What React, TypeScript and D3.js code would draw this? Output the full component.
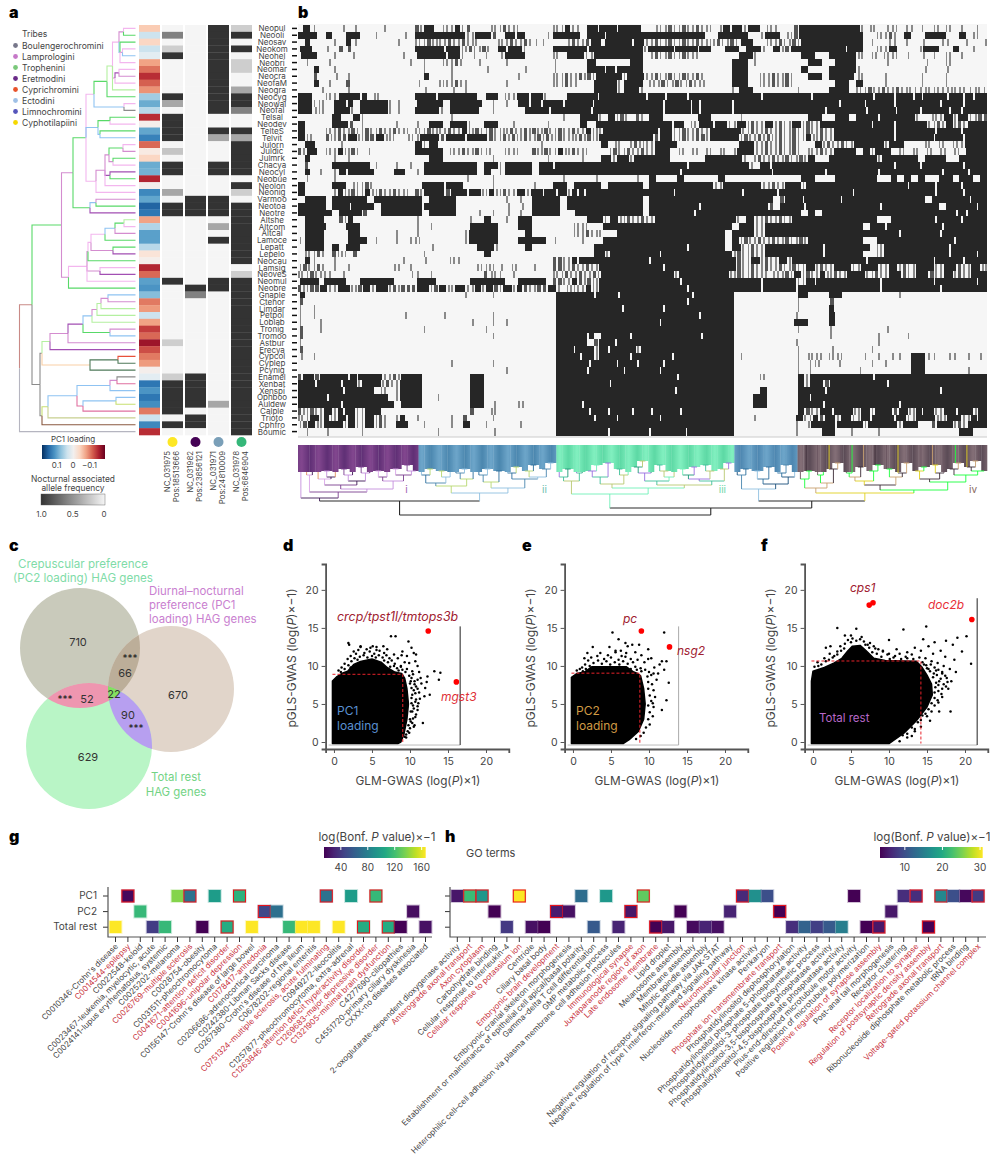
import React, { useEffect, useRef } from "react";
import * as d3 from "d3";

const FONT = "Inter, 'Noto Sans', sans-serif";
const TXT = "#444";
const RED = "#c8323c";

// ---- panel a / b data ----
const species = ["Neopul","Neooli","Neosav","Neokom","Neohel","Neobri","Neomar","Neocra","NeofaM","Neogra","Neocyg","Neowal","Neofal","Telsal","Neodev","TelteS","Telvit","Julorn","Juldic","Julmrk","Chacya","Neocyl","Neobue","Neolon","Neonig","Varmoo","Neotoa","Neotre","Altshe","Altcom","Altcal","Lamoce","Lepatt","Lepelo","Neocau","Lamsig","NeoveS","Neomul","Neobre","Gnaple","Ctehor","Limdar","Petpol","Loblab","Tronig","Tromoo","Astbur","Erecya","Cypcol","Cyplep","Pcynig","Enamel","Xenbat","Xenspi","Ophboo","Auldew","Calple","Trioto","Cphfro","Boumic"];

const pc1Loading = [-0.05,0.04,-0.04,0.04,0.02,-0.08,-0.11,-0.15,-0.12,-0.09,0.07,0.1,0.055,-0.15,-0.005,0.105,0.135,-0.115,-0.015,-0.04,0.1,0.095,-0.155,-0.005,0.13,0.105,0.16,0.145,-0.08,0.06,0.11,0.11,0.055,-0.025,-0.005,-0.155,-0.115,0.11,0.12,0.085,-0.105,-0.085,0.04,-0.08,-0.14,-0.115,-0.17,-0.13,-0.105,-0.085,-0.005,0.02,0.145,0.12,0.145,0.125,-0.105,0.04,0.13,-0.15];

const snp975 = [0,0.6,0,0.2,1,0,0,0,0,0,1,0.4,0,1,1,1,1,0,0.25,0,1,1,0,0,0.4,0,1,1,0,0,0,0,0,0,0,0,0,1,0,0,0,0,0,0,0,0,0.2,0,0,0,0,0.2,1,1,1,1,1,0,1,0];
const snp982 = [0,0,0,0,0,0,0,0,0,0,0,0,0,0,0,0,0,0,0,0,0,0,0,0,0,1,1,1,0,0,0,0,0,0,0,0,0,0,1,0.6,0,0,0,0,0,0,0,0,0,0,0,1,1,1,1,1,0,1,1,0];
const snp971 = [1,1,1,1,1,1,1,1,1,1,1,1,1,0,0,1,0.4,0,0,0,1,1,0,0,0,1,1,1,0,0.4,0,1,0,0,0,0,0,1,1,0,0,0,0,0,0,0,0,0,0,0,0,0,0,0,0,0.4,0,0,0,0];
const snp978 = [0.2,1,0,1,0,0.2,0.2,0,0,0.4,1,1,0.6,0,0,1,0.4,1,1,1,1,1,0,1,0.2,0,1,1,1,1,1,1,1,1,1,0,0.2,1,1,1,1,1,1,1,1,1,1,1,1,1,1,1,1,1,1,1,1,1,1,1];
const snpColumns = [snp975, snp982, snp971, snp978];
const snpIds = ["NC_031975","NC_031982","NC_031971","NC_031978"];
const snpPos = ["Pos:18513666","Pos:23856121","Pos:24810009","Pos:6846904"];
const snpDots = ["#fde725","#440154","#7a9fb8","#35b779"];

const tribes = ["Boulengerochromini","Lamprologini","Trophenini","Eretmodini","Cyprichromini","Ectodini","Limnochromini","Cyphotilapiini"];
const tribeColors = ["#77778a","#c678c8","#7ac87a","#6a2a88","#e8522a","#9fc0e6","#5555bb","#f5d800"];

const P = "#d48ccf", LP = "#f3b6ee", G = "#58d968", LG = "#b4f0a0", B = "#8fc3f2", V = "#a24fb3", K = "#8b8b8b", R = "#e8503a", T = "#4f7a5a", O = "#f9cfa5", Y = "#c8e070", M = "#e070a0";
type TreeNode = { h: number; c: string; kids?: TreeNode[] };
const n = (h: number, c: string, ...kids: (TreeNode | string)[]): TreeNode => ({
  h, c, kids: kids.map((k) => (typeof k === "string" ? { h: 116, c: k } : k)),
});
// branch heights, leaves in row order
const tree = n(0, K,
  n(12.5, "#c98a86",
    n(42, G,
      n(53.5, P,
        n(66.5, G,
          n(74.5, LP,
            n(87.5, G,
              n(93, LG,
                n(99.5, LP, n(104, P, LP, G), n(100.5, B, G, n(103, P, LP, B), LP)),
                n(95.5, P, n(99.5, V, LP, P), LP),
                LG),
              G),
            n(104.5, B, LP, K)),
          n(78.5, B, n(90.5, G, G, LP), n(80.5, B, G, B)),
          n(76.5, LP,
            n(85.5, P,
              n(89.5, P, n(103.5, G, LP, P), n(93.5, P, G, LP)),
              n(90.5, V, V, G),
              LP),
            LP)),
        n(70.5, G, n(76.5, B, P, G), V)),
      n(49, P,
        n(67.5, LP,
          n(68.5, P,
            n(71.5, LP,
              n(85.5, LP, n(95.5, B, n(104.5, G, LG, LP), P), G),
              n(93.5, P, G, V)),
            G),
          n(80.5, P, LP, V),
          LP),
        G)),
    n(20.5, K,
      n(22.5, K,
        n(30.5, LG,
          n(48.5, P,
            n(63.5, V,
              n(72.5, B,
                n(77.5, P, n(81.5, LG, n(88.5, P, B, P), LG), LG),
                LG),
              n(90.5, G, P, B)),
            P),
          V),
        n(70.5, O, n(98.5, T, R, T), T)),
      n(22.5, K,
        n(28.5, Y,
          n(57.5, B, n(90.5, B, n(97.5, P, K, M), B), n(63.5, M, n(96.5, B, B, Y), M)),
          "#c8d090"),
        "#8a5a40"))),
  "#b5b5c0");

// panel b: hex-coded rows, each digit is four neighbouring SNP columns (1 = dark)
const heatRows = [
"1e40002040 0020000d7e 0a5d3000a5 a500000a5d 20fdffbffe 00a5a5a5a5 05efd7f0a4 00dfffffff fd0a025048 2050a04020",
"ffe0f00ff0 0400020fff ffffa5ff60 fdf0004fff f0ffdfffff fffffffff0 0ffff805ff 0adfffffff ff00a5a0f0 0fff00f0a0",
"0e00040e40 0000200a5a a5a5a5000a 5a5a220005 a5bf3fffdf a5a5a5a5a5 5a5a7f00a5 a5afffffff ff04012040 1002400801",
"7f0040c600 0000000fff fbfd5a5a0f bfd0000fff ff7fffffff 5fffdfff7f 00ff0ffa0f 5bfffffffd ff00a5f000 5ff00f0080",
"3fe0040080 00000407ff fdfd020402 fff0000a0f fd2fffffff 05a5a5a500 0000ff4000 000ff00fff f5050a5020 1040a04000",
"0400200000 0000004040 0a5a004000 4000000400 00f800007f 0000000000 000ff84000 0000ff00ff f000020000 0400a00000",
"0070040000 0000000040 0040000200 0008000400 00ffdf7fff 0000000000 000ff80000 000f000fff f400000000 0800400000",
"0060020400 0000000070 0040000000 0080000a5a 5ad7fff5ff a5a5a5a5a0 000ff80a5a 5a00ff0fff e500040000 2000800000",
"0070200c00 0000000200 2a5a400000 4000000a5a 400fffa7ff 0a5a5a5a50 000ff80a5a 5a000000ff 0f00040000 2000800000",
"0002000400 0000000020 0020400000 0000000000 000fffa7fd 0000000000 0008ff0000 0020000fff 0a5a5a5a52 4a5254a252",
"ff00a4fff7 0a00000fff 7fffff07f0 a5fdfd000f fffdffffff dffbffdfff fffffffbff ffffdfffff fffdffdffb dfffbfdf7f",
"ff4a07f70f fff42007ff f0ffffe040 40fdfbffdf ffefffffff fff7fff7bf fff7ffffff ffffffffdf ffbfffdfff fffbffdfff",
"ff2a07fd0f fff4200fff d0ffff8040 000fffdfff ffdfffffff fff7fff7bf fff7ffffff ffffffdfff ffdfffefff bfffdfbfff",
"00000f80f4 0000000000 0040000000 0000000020 0ffd0f5a0d 0ff00000ff 0000400000 0000ff00ff 0fffbffffd 00a5f5fa5b",
"f0000ffb04 000040040f f0ffd00ff0 0400004000 0f07ffffff ffffbf0a7f bfa5f5a5f5 a5f5a5ffff fffbffdfff fa5af5a7ff",
"f000a5a5a5 a5a5a50a5a a5a5d5a5a5 5a5ad5a5a5 a5d57fffff ffbfa5a5a5 ffffa5a5a5 a5a5a5a5ff ffffffdfff ffdfffbfff",
"f500d5b7d5 b7d500a5ff dbffbffda5 ad5a5ad5a5 5ad5ffffff fdbfa5a5b5 ffff5a5ad5 a5a5d5a5ff ffffffdfff ffbfffdfff",
"0fc0004000 0000000f4f 8000000000 0000040000 0000f0a05a a5fff00000 0000ffa5a5 a5a00f5a5a 5ffff5ff00 0a0a0a5fff",
"d7e0a5d5a0 4000000fff f0a5a5a500 a500d5a5d5 a50005a5a5 a5ff050505 0505ffa5a5 a5a0a5a5ff f0f5ff0505 0505050fff",
"0e00040400 000000000f f000000040 0000004000 0400fd7f5f ffff00000f ffffd05a5a 5a5af00fff ffff5fffff 0fff00ffff",
"0c000fffff c40040407f ffffff0ff4 ffff0ff7ff ffffffffff ffffffdfff fffffd0fdf ffffffffff ffffffdfff bfffffdfff",
"0e0404f7ff f000fc047f ffffff0f04 ffff0fffff ffffffffff fffffdffff ffffffffef ffffffdfff ffffbfffff fffdfffbff",
"0400040000 0000000000 0000200040 0000000020 0004000004 0f000f0000 0f00000000 000ff000ff ffff00f0f0 f00ff0ff0f",
"f0000ff0a5 a0000000ff fbff000040 0000400ff0 ffff0fffff 0fffffffff a5fffffa5a 5ff5ffffff ffffffffdf ffdfffbfff",
"f00005d5a5 d5a5a50d7f fb7fdfd5d5 a5f5fdfdf5 ddffffffff ffffdfffff ffffdffffd ffffffffff dfffffffff ffdfffdfff",
"0fff0fffff 0fffffff0f fff0000000 4040ffff0f ffffffffff 0fffffffff fffffffff0 dffbffffef ffffffffff f0fffffdff",
"ffff0ffdff f0ffffff7f fff0000000 2020ffff0f ffffffffff 0fffffffbf ffffffffb0 fffdffffff ffffdfffff fff0ffffdf",
"fffff0fffb 00ffffff0f fff0004040 2040ffff00 7fffffffff 0ffffffdff ffffffffff fff0f0ffff ffffffffff fffffdf7ff",
"0ffe00d700 0000000400 0000080f00 40ff000000 00ffa7d5a5 a5ffffffff fffd0fa5a5 a5ffffffff ffff00ffff ffdfffbfff",
"0fff000ff0 0000000404 00000ffff0 00ff000000 a5007fffff ffffffffff fff0ffa5ff ffffffffff ff0ffbffff fffdffffff",
"0ffe0007f0 0000400400 00005ffff0 000f000000 a5a5007fff ffffffffff ff0fffa5ff ffffffffff fffffffbff fffbffffff",
"4ffe0007ff 0400404a00 00005ffff0 00ffff0400 04007fffff ffffffffff ff0f5a5a5a 5a5affffff ff00ffffff fffffbffff",
"0ffe0f0ff0 0000000002 000000ffd0 000f000000 000fffffff ffffffdfff ff0fa5a5ff ffffffbfff fff0afffff ffffdfffff",
"0a5a0d50c0 0000000040 0000000f00 0000000000 000fd7ffff ffdfffffff fff5a5a5ff ffffffbfff ff00afffff ffffdfffdf",
"0e40040000 0000040020 00a4000000 0000000da5 dfffffffff f7ffffffff fffda5f5a5 f5ffffffff ffdfffffff ffbfffdfff",
"5a5a040400 0000a04000 000000a542 0a00400da5 a5a5ffffff fff7ffffff fffda5a5a5 a5a5f5a5ff a5ffa5f5a5 ffa5fda5f5",
"a5a5202000 0000002404 0000000ca4 0400000a5a 5a5affffff ffffd7ffff ffd5a5a50a 5af5a5d5a5 ffa5a5fda5 fda5f5a5ff",
"7ff1fff00f ffff0007ff 00000fffff 00ffff0da5 dad5ffffff fffffdffff fffffffbff ffa5f7ffff ffffdfffff ffbfffffdf",
"d5b7a5fd5b d7f5adb7f5 bd5fa5d7b5 f5da5b7d0a a5d5ffffff ffffffdfff fffffffbff ffbfffffff ffffdfffff fffbffffff",
"7000000000 0000000000 0000400040 00000003ff fff7ffdfff fffffffbff fff8000000 003f000ff0 0000000400 0000000000",
"6000000000 0000000000 0000000000 00000003ff ffffffffff ffffffdfff fff8000000 0020000600 0000000000 0000000000",
"4040000000 0000000000 0000000000 00000003ff fffffff7ff fff7ffffff fff8000000 0020000e00 0000000000 0000000000",
"4040000000 0000020000 0400000040 00000003ff ffffffffff ffffffffbf fff8000000 0040000f00 0000000000 0000000000",
"4004000000 0000000000 0000040040 40000003ff ffffffffff ffdfffffff fff8000000 00ff000f00 0000000000 0000000000",
"6004000000 0000000040 0000000400 00000003ff ffffffffff ffffffffff fff8000000 0020000400 0000020000 0000000000",
"6000000000 0000000000 0000000040 00000003ff ff70ffffbf ffffffffdf fff8000000 0000000400 0000400020 0000000000",
"4000000000 0000000000 0000000000 00000003ff ff0dff7fff ffffffffff fff8000000 0040000000 0000400000 0000000000",
"6000000000 0000000000 0000000000 00000003ff 7ff5f7fff5 ffffffffff fff8000000 0020000200 0004000000 0000000000",
"2040000000 0000000000 0000000000 00000003ff f7f5ffffbf ffffbfffff fff8400000 0020a50a50 004040440f f240240408",
"0000000000 0000000000 0040000040 00000003ff ffbfffbffb fff7ffffff fff8000000 00204a0020 000404000f f000000000",
"0000000000 0000000000 0000000000 40000003ff ff7ffffbff ffdfffffff fff8000000 0020400000 020000000f f000000400",
"dfb7fffbdf ffa5afff00 00000ff000 00000003ff ffffffffff fffff7ffff fff8000a00 003d7fffff fffdffffff ffffffffff",
"ffdfffbfd7 ff5a5fff00 00000ff000 00000003ff fffffbffff ffffffffff fff8000000 003d7fb7ff fffffdffff ffffffffff",
"ffffffdfff f0a05fff00 00000ff000 00000003ff ffffffffff ffffefffff fff8000f00 003fffdfff ffffffffff fffbffffff",
"ffffbfffff fff05fff00 40000ff000 00000003ff ffffffffff ffffffffff fff800ff00 003fbfffff ffffffffff ffffffffff",
"ffffffbfff ffff0fff00 00000ff020 00a00003ff fbffffffff ffffffffff fff800ff00 003fffbfff fffffffbff ffffffffff",
"d5a5f5dfa5 ff00000000 00000c00a0 00000003ff ffbff7ffdf fbfffdffff fff8000000 003da5fdff d5f5ffb7d5 dfa5fdff5f",
"a5f5d5f7a5 f5a05c0400 0040c00040 00000003ff fff7ffbfff ffdfffffff fff8004000 007a5dbf5f a5f7ffdfa5 ffd57fa5df",
"5bd5ffd7a5 f5a07f0040 0040f00400 00400003ff ffffffffff ffffffffff fff8000000 0040bfff7f ff5ffff5ff 00dff5a7ff",
"0400400004 0000000000 4000000020 00000003ff fffff7ffff f7ffffbfff fff8000000 004000ff00 4000400000 000000ff00",
];

// adjacent merge depths of the column dendrogram, one list per clade
const clusterI = [53,30,47,34,26,32,40,24,30,36,22,28,44,26,32,36,24,30,20,26];
const clusterII = [30,24,38,26,32,41,28,24,34,48,30,24,37,26,43,28,22,34,26,20,32,24,18];
const clusterIII = [32,24,36,28,49,26,20,32,18,39,24,30,43,22,16,28,36,20,26,32,40,24,30,22,34,20,26,36,24,18];
const clusterIIIb = [30,24,44,26,34,22,39,28,20,32];
const clusterIV = [34,26,43,30,38,24,18,48,28,32,22,36,26,20,40,24,32,28,18,45,26,22,34,20,28,37,24,18,30,22,16,26];
const clusterJoins = [56, 70, 63, 56];
const clusterLists = [clusterI, clusterII, clusterIII, clusterIIIb, clusterIV];
const clusterNames = ["i", "ii", "iii", "", "iv"];
const clusterNameColors = ["#a060b0", "#6fc0b0", "#70d8a8", "", "#8a6a60"];
const clusterFills = [["#83478f", "#5f2f75"], ["#6ea6ca", "#4a86ae"], ["#82f0c0", "#5cd8a4"], ["#6ea6ca", "#4d86b0"], ["#857078", "#5a4a55"]];
const clusterLines = [
  ["#3d1a55", "#c48fdc", "#7a3f8e", "#d9a5e8", "#e0905a"],
  ["#2a6d9c", "#8fc0e0", "#b8d870", "#4a86ae"],
  ["#3fbf9a", "#9a70e0", "#1e9a78", "#6ff0b8", "#b8c870"],
  ["#2a6d9c", "#8fc0e0", "#4a86ae", "#1a4f7c"],
  ["#1aff3c", "#3a2a35", "#e0d020", "#c8a070", "#1aff3c", "#6a5560"],
];

// ---- panel c ----
const vennCounts = ["710", "670", "629", "66", "52", "90", "22"];

// ---- panels d, e, f: the dense core as an outline, the stray points one by one ----
const cloudD = [[-0.2,-0.2],[-0.2,8],[0.4,8.6],[1,9],[1.8,9.3],[2.6,10.2],[3.5,10.6],[5,10.9],[6.2,10.5],[7,9.8],[8,9.2],[8.9,9],[9.3,8.4],[9.6,7],[9.8,5],[9.6,3],[9.2,1],[8.8,0],[8.4,-0.2]];
const cloudE = [[-0.2,-0.2],[-0.2,8.5],[0.5,9],[1.5,9.2],[2.5,9.9],[7,9.9],[8,9.2],[8.5,9],[8.9,8.7],[9.3,7],[9.5,5],[9.3,3],[8.6,1.4],[7.4,0.3],[6.6,-0.2]];
const cloudF = [[-0.2,-0.2],[-0.2,8],[0,9.3],[1.5,9.8],[2.8,10.4],[3.8,11],[4.6,12],[5.2,12.6],[6.2,12.7],[7,12],[8,11],[9.5,10.7],[13.6,10.6],[14.3,9.9],[15,8.8],[15.6,7.6],[15.7,6.2],[15,4.6],[13.6,2.8],[12,1.2],[10.6,0.2],[10,-0.2]];
const pointsD = [[1.9,13],[2,12.8],[3.5,12.6],[4.8,12.4],[5.6,12.5],[6.5,12.6],[7,12.2],[7.5,13.9],[8.1,13.9],[9.8,13.2],[7.9,11.5],[8.4,11],[9,11.9],[10.2,12.4],[10.5,11.7],[10.8,11.5],[9.6,11.3],[8.9,11.4],[9.9,10.4],[10.7,10.6],[9.3,10.5],[8.8,10],[9.6,9.6],[10.3,9.3],[11,10],[11.4,8.4],[12.3,8.6],[13.2,9.3],[14,9.1],[13.8,8.2],[10.8,7.3],[12,7.1],[12.6,6.2],[11.9,6],[11.1,5.1],[11.7,2.5],[10.5,2],[9.3,0.7],[10.2,8.4],[10.6,8],[10,7.7],[11,8.2],[10.5,6.8],[11.2,6.5],[10.2,5.8],[10.8,5.6],[10.4,4.8],[11,4.2],[10.3,4],[10.7,3.3],[10,3],[10.3,2.5],[9.8,2.2],[9.7,1.4],[9.5,1],[11.5,7.7],[12.2,7.9],[11.2,9.2],[9.9,8.7],[10.4,8.9],[10.1,8],[10.6,7.6],[10.2,7.1],[11,7],[10.7,6.4],[10.3,6.2],[11.3,5.7],[10.7,5.3],[10.2,5.1],[11,4.7],[10.5,4.4],[10.1,4],[10.8,3.6],[10.4,3.1],[10.1,2.7],[10.6,2.2],[10,1.8],[9.9,1.2],[9.5,0.6]];
const humpD = [[3.5,12.5],[4.3,12.2],[5.1,12.6],[5.6,12.1],[2.6,11.9],[3.2,12.1],[4,11.7],[4.7,11.9],[5.3,11.6],[6,12],[6.6,11.7],[2.2,11.3],[2.9,11.6],[3.4,11.2],[3.9,11.4],[4.4,11.1],[5,11.3],[5.5,11.1],[5.9,11.4],[6.4,11.1],[6.9,11.4],[7.3,11],[1.8,10.9],[2.3,10.6],[2.7,11],[3.1,10.8],[6.6,10.7],[7.1,10.5],[7.6,10.7],[8,10.3],[1.4,10.3],[1.9,10.1],[2.2,9.8],[7.4,9.9],[7.9,10],[8.3,9.7],[8.8,9.9],[1,9.8],[1.4,9.6],[0.6,9.4],[0.9,9.2],[8.5,9.4],[9,9.5],[9.4,9.2]];
const pointsE = [[5.2,14.4],[12,14.4],[2.6,12.5],[4.8,12.5],[6,13.5],[6.9,13],[7.2,12.6],[7.8,12.8],[8.7,12.8],[9.9,12.2],[11.7,10.6],[12.3,10.6],[11.4,10.2],[12,9.5],[12.6,7.8],[11,8.2],[12.3,5.5],[11.7,4.2],[10.5,5.1],[1.5,11],[1.9,11.7],[5.6,12],[6.3,12],[7,11.7],[8.2,11.8],[8.5,10.8],[9,11.4],[9.4,10.5],[9.9,10.9],[10.3,11],[10.7,9.8],[10,9.2],[10.6,9],[11.2,9],[9.8,8.6],[10.3,8.8],[9.9,7.9],[10.4,7.6],[9.9,7],[10.6,6.8],[10.1,6.1],[10.8,5.9],[10.3,5.4],[9.9,4.8],[10.6,4.6],[10.1,3.9],[10.5,3.4],[9.9,3],[10.1,2.3],[9.6,1.9],[9.3,1.2],[8.9,0.8],[8.3,0.4]];
const humpE = [[3.6,11.7],[4.6,11.4],[5.6,11.8],[6.4,11.3],[2.4,11.1],[3.2,11.3],[4.1,10.9],[5,11.1],[6,10.8],[6.9,11.2],[7.6,10.9],[2,10.7],[2.7,10.4],[3.3,10.7],[3.8,10.3],[4.4,10.6],[4.9,10.2],[5.5,10.5],[6.1,10.2],[6.6,10.6],[7.2,10.3],[7.9,10.5],[1.6,10.2],[2.2,10],[8.2,9.9],[1.2,9.8],[1.7,9.6],[7.6,9.6],[8.4,9.5],[8.9,9.7],[0.5,9.4],[0.9,9.6],[1.3,9.3],[9,9.3],[9.5,9.5]];
const pointsF = [[3.2,15],[5.7,14.9],[1.7,12.4],[2.3,12.6],[14.9,15.2],[11.9,14.8],[14.5,13.5],[19,13.7],[17.5,13.3],[18.4,12.8],[16,13.1],[20.2,13.9],[19.6,11.9],[20.8,10.3],[18.1,4],[16.6,4],[4.2,14],[5,14],[6.4,13.8],[7.2,12.8],[8.2,12.3],[9.2,12],[10,11.6],[11,12.2],[12.4,11.8],[13.4,12.4],[14.2,12],[15.2,12.6],[15.8,11.6],[16.8,12],[17.4,11.2],[18.6,10.8],[14.8,11],[15.6,10.6],[16.4,10.4],[17.2,10],[18,9.6],[18.8,9.2],[14.6,10.2],[15.2,9.6],[16.2,9.4],[17,9],[17.6,8.4],[18.2,8],[17.8,7],[15,3.4],[15.4,2.8],[14.2,2],[13.4,1.4],[12.4,0.6],[11.4,0.1],[10,13.4]];
const humpF = [[4.6,13.4],[5.2,13.6],[5.7,13.3],[6.2,13.5],[6.7,13.2],[4.2,12.9],[5,13.1],[6.9,12.8],[7.5,13],[3.6,12.6],[4.1,12.3],[7.4,12.4],[8,12.6],[8.6,12.2],[3.2,11.9],[3.7,12],[7.8,11.8],[8.4,11.6],[9.2,11.9],[2.2,11.6],[2.8,11.3],[3.2,11.5],[9,11.2],[9.8,11.5],[10.6,11.1],[11.4,11.6],[12.2,11.2],[13,11.5],[1.5,11],[2.1,10.8],[2.6,11.1],[10.1,10.9],[10.8,11.3],[11.6,10.9],[12.4,11],[13.2,10.9],[14,11.1],[0.6,10.5],[1.1,10.2],[1.7,10.6],[14.4,10.5],[14.9,10.1],[0.2,9.9],[0.7,10],[15,9.7],[15.5,10.2],[16,9.8],[15.4,9.3],[15.9,9],[16.5,9.5],[17,9.2],[15.8,8.5],[16.3,8.8],[16.8,8.3],[17.4,8.7],[16.2,7.8],[16.6,8],[17.2,7.6],[17.7,7.9],[16.1,7.2],[16.5,7.5],[17,7],[17.5,7.3],[16,6.5],[16.5,6.7],[16.9,6.3],[16,5.8],[16.4,5.5],[17,5.9],[15.6,5.1],[16,4.8],[16.5,5.2],[15.2,4.3],[15.6,4],[14.4,3.5],[14.8,3.7],[13.8,2.6],[14.2,2.9],[13,1.9],[13.4,1.7],[11.8,0.9],[12.4,1.1],[13,0.8]];
const hitsD = [[12.4,14.6],[16.1,7.9]];
const hitsE = [[9,14.6],[12.7,12.5]];
const hitsF = [[7.4,18],[7.9,18.3],[20.9,16.1]];

// ---- panel g ----
const diseaseTerms = ["C0010346-Crohn's disease","C0014544-epilepsy","C0022548-keloid","C0023467-leukemia, myelocytic, acute","C0024141-lupus erythematosus, systemic","C0025202-melanoma","C0026769-multiple sclerosis","C0028754-obesity","C0031511-pheochromocytoma","C0041671-attention deficit disorder","C0041696-unipolar depression","C0156147-Crohn's disease of large bowel","C0178417-anhedonia","C0206686-adrenocortical carcinoma","C0242380-Libman Sacks disease","C0267380-Crohn's disease of the ileum","C0678202-regional enteritis","C0751324-multiple sclerosis, acute fulminating","C0949272-ileocolitis","C1257877-pheochromocytoma, extra-adrenal","C1263846-attention deficit hyperactivity disorder","C1269683-major depressive disorder","C1321905-minimal brain dysfunction","C4277690-ciliopathies","C4551720-primary ciliary dyskinesia","CXXX-no diseases associated"];
const diseaseRed = [1,6,9,10,12,17,20,21,22];
const groups = ["PC1","PC2","Total rest"];
// [group, term, value, flagged]
const diseaseCells = [[0,1,18,1],[0,5,138,0],[0,6,72,1],[0,8,98,0],[0,10,112,1],[0,17,72,1],[0,19,98,0],[0,21,116,1],[1,2,116,0],[1,12,48,1],[1,13,70,0],[1,24,20,0],[2,0,166,0],[2,3,42,0],[2,4,116,0],[2,7,15,0],[2,9,108,1],[2,11,166,0],[2,14,116,0],[2,15,166,0],[2,16,166,0],[2,18,166,0],[2,20,108,1],[2,22,108,1],[2,23,15,0],[2,25,22,0]];

// ---- panel h ----
const goTerms = ["2-oxoglutarate-dependent dioxygenase activity","Anterograde axonal transport","Axon cytoplasm","Carbohydrate binding","Cellular response to interleukin-4","Cellular response to potassium ion","Centriole","Ciliary basal body","Embryonic brain development","Embryonic cranial skeleton morphogenesis","Establishment or maintenance of epithelial cell apical/basal polarity","Gamma-delta T cell differentiation","GMP metabolic process","Heterophilic cell–cell adhesion via plasma membrane cell adhesion molecules","Immunological synapse","Juxtaparanode region of axon","Late endosome membrane","Lipid droplet","Melanosome assembly","Membrane assembly","Mitotic spindle assembly","Negative regulation of receptor signaling pathway via JAK-STAT","Negative regulation of type I interferon-mediated signaling pathway","Neuromuscular junction","Nucleoside monophosphate kinase activity","Perikaryon","Phosphate ion transmembrane transport","Phosphatidylinositol dephosphorylation","Phosphatidylinositol phosphate 5-phosphatase activity","Phosphatidylinositol-3-phosphate biosynthetic process","Phosphatidylinositol-3,5-bisphosphate phosphatase activity","Phosphatidylinositol-4,5-bisphosphate phosphatase activity","Plus-end-directed microtubule motor activity","Positive regulation of microtubule polymerization","Positive regulation of synapse assembly","Post-anal tail morphogenesis","Receptor clustering","Receptor localization to synapse","Regulation of postsynaptic density assembly","Retrograde axonal transport","Ribonucleoside diphosphate metabolic process","tRNA binding","Voltage-gated potassium channel complex"];
const goRed = [1,2,5,8,14,15,16,23,26,34,37,38,39,42];
const goCells = [[0,0,5,0],[0,1,22,1],[0,2,18,1],[0,5,30.5,1],[0,10,13,0],[0,12,18,0],[0,15,24,1],[0,23,6.5,1],[0,24,17,0],[0,25,10,0],[0,32,3.5,0],[0,36,7,0],[0,37,7,1],[0,39,16,1],[0,40,10,0],[0,41,4,0],[0,42,8,1],[1,3,3.5,0],[1,8,5.5,1],[1,9,4.5,0],[1,14,5,1],[1,18,3.5,0],[1,22,6,0],[1,26,3.5,1],[1,35,5,0],[2,4,8,0],[2,6,4.5,0],[2,7,3.5,0],[2,11,11,0],[2,13,6,0],[2,16,3.5,1],[2,17,5,0],[2,19,4.2,0],[2,20,6,0],[2,21,4.5,0],[2,27,7,0],[2,28,12,0],[2,29,8.5,0],[2,30,11,0],[2,31,15,0],[2,33,3.5,0],[2,34,5,1],[2,38,3.5,1]];

const pc1Ticks = [0.1, 0, -0.1];
const freqTicks = [1, 0.5, 0];
const diseaseTicks = [40, 80, 120, 160];
const goTicks = [10, 20, 30];

// ---- scales shared by a and b ----
const rowBand = d3.scaleBand<string>().domain(species).range([25, 435]);
const rowH = rowBand.bandwidth();
const rowMid = (i: number) => (rowBand(species[i]) as number) + rowH / 2;
const pc1Color = d3.scaleSequential(d3.interpolateRdBu).domain([-0.2, 0.2]);
const freqColor = d3.scaleLinear<string>().domain([0, 1]).range(["#f5f5f5", "#333333"]);
const treeX = d3.scaleLinear().domain([0, 116]).range([19.5, 135.5]);

function TreePanel() {
  const root = d3.hierarchy<TreeNode>(tree, (d) => d.kids);
  let leaf = 0;
  const ys = new Map<any, number>();
  root.eachAfter((node) => {
    if (!node.children) ys.set(node, rowMid(leaf++));
    else {
      const kids = node.children;
      ys.set(node, (ys.get(kids[0])! + ys.get(kids[kids.length - 1])!) / 2);
    }
  });
  const links = root.descendants().filter((d) => d.parent);
  return (
    <g fill="none">
      {links.map((d, i) => {
        const px = treeX(d.parent!.data.h);
        const py = ys.get(d.parent)!;
        const cy = ys.get(d)!;
        const path = d3.path();
        path.moveTo(px, py);
        path.lineTo(px, cy);
        path.lineTo(treeX(d.data.h), cy);
        return <path key={i} d={path.toString()} stroke={d.data.c} strokeWidth={1.1} />;
      })}
    </g>
  );
}

function Strips() {
  const strip0 = 139;
  const stripW = 21;
  const stripGap = 23;
  return (
    <g>
      {pc1Loading.map((v, i) => (
        <rect key={i} x={strip0} y={rowBand(species[i])} width={stripW} height={rowH + 0.3} fill={pc1Color(v)} />
      ))}
      {snpColumns.map((col, c) => (
        <g key={c}>
          {col.map((v, i) => (
            <rect key={i} x={strip0 + stripGap * (c + 1)} y={rowBand(species[i])} width={stripW} height={rowH + 0.3} fill={freqColor(v)} />
          ))}
          <circle cx={strip0 + stripGap * (c + 1) + 10.5} cy={442} r={5} fill={snpDots[c]} />
          <text transform={`translate(${strip0 + stripGap * (c + 1) + 8},451) rotate(-90)`} textAnchor="end" fontSize={7.8} fill={TXT}>{snpIds[c]}</text>
          <text transform={`translate(${strip0 + stripGap * (c + 1) + 17},451) rotate(-90)`} textAnchor="end" fontSize={7.8} fill={TXT}>{snpPos[c]}</text>
        </g>
      ))}
      {species.map((s, i) => (
        <g key={s}>
          <text x={272} y={rowMid(i) + 3} textAnchor="middle" fontSize={8} fill={TXT}>{s}</text>
          <line x1={292} x2={297} y1={rowMid(i)} y2={rowMid(i)} stroke="#111" strokeWidth={1.5} />
        </g>
      ))}
    </g>
  );
}

function Heatmap() {
  const cols = heatRows[0].replace(/ /g, "").length * 4;
  const x = d3.scaleLinear().domain([0, cols]).range([298, 987]);
  const top = (i: number) => Math.round((rowBand(species[i]) as number));
  const runs: { i: number; a: number; b: number }[] = [];
  heatRows.forEach((row, i) => {
    const bits = row.replace(/ /g, "").split("").flatMap((ch) => {
      const v = parseInt(ch, 16);
      return [v & 8, v & 4, v & 2, v & 1].map((b) => (b ? 1 : 0));
    });
    let start = -1;
    bits.concat(0).forEach((b, k) => {
      if (b && start < 0) start = k;
      if (!b && start >= 0) {
        runs.push({ i, a: start, b: k });
        start = -1;
      }
    });
  });
  // thin runs print as grey in the source figure
  const shade = (w: number) => (w === 1 ? "#8a8a8a" : w === 2 ? "#555" : "#252525");
  return (
    <g>
      <defs>
        <filter id="soft" x="0" y="0" width="1" height="1">
          <feGaussianBlur stdDeviation="0.45 0.2" />
        </filter>
      </defs>
      <rect x={298} y={24} width={689} height={413} fill="#f6f6f6" />
      <g filter="url(#soft)">
        {runs.map((r, j) => (
          <rect key={j} x={x(r.a)} width={x(r.b) - x(r.a)} y={top(r.i)} height={(r.i < species.length - 1 ? top(r.i + 1) : 436) - top(r.i)} fill={shade(r.b - r.a)} shapeRendering="crispEdges" />
        ))}
      </g>
      <line x1={298} x2={987} y1={437} y2={437} stroke="#ccc" />
    </g>
  );
}

type DNode = { x: number; d: number; lo: number; hi: number; l?: DNode; r?: DNode };

function Dendrogram() {
  const merges: number[] = [];
  const leafCluster: number[] = [];
  clusterLists.forEach((list, c) => {
    merges.push(...list);
    for (let k = 0; k <= list.length; k++) leafCluster.push(c);
    if (c < clusterJoins.length) merges.push(clusterJoins[c]);
  });
  const x = d3.scaleLinear().domain([0, leafCluster.length]).range([298, 987]);
  const y = d3.scaleLinear().domain([0, 70]).range([445, 515]);
  const leafW = x(1) - x(0);
  const build = (lo: number, hi: number): DNode => {
    if (lo === hi) return { x: x(lo + 0.5), d: 0, lo, hi };
    const at = lo + d3.maxIndex(merges.slice(lo, hi));
    const l = build(lo, at);
    const r = build(at + 1, hi);
    return { x: (l.x + r.x) / 2, d: merges[at], lo, hi, l, r };
  };
  const root = build(0, leafCluster.length - 1);
  const segs: React.ReactNode[] = [];
  const tips: React.ReactNode[] = [];
  let count = 0;
  const walk = (node: DNode, parentD: number) => {
    const cl = leafCluster[node.lo];
    const mixed = cl !== leafCluster[node.hi];
    const pal = clusterLines[cl];
    const color = mixed ? "#2a2a2a" : pal[count++ % pal.length];
    if (!node.l) {
      const tip = Math.min(parentD, 27);
      tips.push(<rect key={"t" + node.lo} x={x(node.lo)} y={y(0)} width={leafW + 0.3} height={y(tip) - y(0)} fill={`url(#clade${cl})`} />);
      const from = cl === 4 && node.lo % 2 === 0 ? 0 : tip;
      segs.push(<line key={"l" + node.lo} x1={node.x} x2={node.x} y1={y(from)} y2={y(parentD)} stroke={color} strokeWidth={0.9} />);
      return;
    }
    segs.push(<line key={"v" + node.lo + "-" + node.hi} x1={node.x} x2={node.x} y1={y(node.d)} y2={y(parentD)} stroke={color} strokeWidth={mixed ? 1.1 : 0.9} />);
    segs.push(<line key={"h" + node.lo + "-" + node.hi} x1={node.l.x} x2={node.r!.x} y1={y(node.d)} y2={y(node.d)} stroke={color} strokeWidth={mixed ? 1.1 : 0.9} />);
    walk(node.l, node.d);
    walk(node.r!, node.d);
  };
  walk(root, root.d);
  let acc = 0;
  return (
    <g>
      <defs>
        {clusterFills.map((f, c) => (
          <g key={c}>
            <linearGradient id={`cladeG${c}`}>
              <stop offset="0" stopColor={f[1]} />
              <stop offset="0.5" stopColor={f[0]} />
              <stop offset="1" stopColor={f[1]} />
            </linearGradient>
            <pattern id={`clade${c}`} patternUnits="userSpaceOnUse" width={leafW * 3} height={40}>
              <rect width={leafW * 3} height={40} fill={`url(#cladeG${c})`} />
            </pattern>
          </g>
        ))}
      </defs>
      {tips}
      {segs}
      {clusterLists.map((list, c) => {
        acc += list.length + 1;
        return clusterNames[c] ? (
          <text key={c} x={x(acc) - (c === 4 ? 14 : 12)} y={493} fontSize={10} textAnchor="middle" fill={clusterNameColors[c]}>{clusterNames[c]}</text>
        ) : null;
      })}
    </g>
  );
}

function Legends() {
  const pcX = d3.scaleLinear().domain([0.1, -0.1]).range([56.7, 89.5]);
  const frX = d3.scaleLinear().domain([1, 0]).range([41.5, 104]);
  const stops = d3.range(0, 1.01, 0.1);
  return (
    <g>
      <text x={22} y={37} fontSize={8.6} fill={TXT}>Tribes</text>
      {tribes.map((t, i) => (
        <g key={t}>
          <circle cx={15.5} cy={45.5 + i * 11} r={2.4} fill={tribeColors[i]} />
          <text x={22} y={48.5 + i * 11} fontSize={8.6} fill={TXT}>{t}</text>
        </g>
      ))}
      <defs>
        <linearGradient id="pcGrad">
          {stops.map((t) => <stop key={t} offset={t} stopColor={d3.interpolateRdBu(1 - t)} />)}
        </linearGradient>
        <linearGradient id="frGrad">
          {stops.map((t) => <stop key={t} offset={t} stopColor={freqColor(1 - t)} />)}
        </linearGradient>
      </defs>
      <text x={73} y={442} fontSize={8} textAnchor="middle" fill={TXT}>PC1 loading</text>
      <rect x={42} y={445} width={63} height={14} fill="url(#pcGrad)" />
      {pc1Ticks.map((t) => (
        <text key={t} x={pcX(t)} y={468} fontSize={8} textAnchor="middle" fill={TXT}>{t < 0 ? "−0.1" : String(t)}</text>
      ))}
      <text x={73} y={482} fontSize={8.4} textAnchor="middle" fill={TXT}>Nocturnal associated</text>
      <text x={73} y={491} fontSize={8.4} textAnchor="middle" fill={TXT}>allele frequency</text>
      <rect x={41} y={494} width={64} height={11} fill="url(#frGrad)" stroke="#555" strokeWidth={0.4} />
      {freqTicks.map((t) => (
        <text key={t} x={frX(t)} y={517} fontSize={8} textAnchor="middle" fill={TXT}>{t === 0 ? "0" : t.toFixed(1)}</text>
      ))}
    </g>
  );
}

function Venn() {
  const top = { cx: 80, cy: 648, r: 60 };
  const right = { cx: 171, cy: 689, r: 63 };
  const bottom = { cx: 89, cy: 746, r: 63 };
  const positions = [[78, 646], [178, 699], [88, 761], [125, 677], [87, 703], [128, 719], [114, 698]];
  const stars = [[130, 662], [65, 703], [136, 732]];
  return (
    <g>
      <defs>
        <clipPath id="clipTop"><circle {...top} /></clipPath>
        <clipPath id="clipRight"><circle {...right} /></clipPath>
        <clipPath id="clipBottom"><circle {...bottom} /></clipPath>
      </defs>
      <circle {...top} fill="#c9cabb" />
      <circle {...right} fill="#e1d5ca" />
      <circle {...bottom} fill="#b9f5c6" />
      <circle {...right} fill="#bcae99" clipPath="url(#clipTop)" />
      <circle {...bottom} fill="#ee96b0" clipPath="url(#clipTop)" />
      <circle {...bottom} fill="#b79ff0" clipPath="url(#clipRight)" />
      <g clipPath="url(#clipTop)">
        <circle {...bottom} fill="#84e060" clipPath="url(#clipRight)" />
      </g>
      {vennCounts.map((t, i) => (
        <text key={t} x={positions[i][0]} y={positions[i][1]} fontSize={11} textAnchor="middle" fill="#333">{t}</text>
      ))}
      {stars.map((s, i) => (
        <text key={i} x={s[0]} y={s[1]} fontSize={10} textAnchor="middle" fill="#222">***</text>
      ))}
      <g fontSize={11.6} fill="#7fdca8">
        <text x={83} y={568} textAnchor="middle">Crepuscular preference</text>
        <text x={83} y={582} textAnchor="middle">(PC2 loading) HAG genes</text>
      </g>
      <g fontSize={11.4} fill="#c980d0">
        <text x={149} y={595}>Diurnal–nocturnal</text>
        <text x={149} y={609}>preference (PC1</text>
        <text x={149} y={623}>loading) HAG genes</text>
      </g>
      <g fontSize={11.4} fill="#72d384" textAnchor="middle">
        <text x={176} y={781}>Total rest</text>
        <text x={176} y={796}>HAG genes</text>
      </g>
    </g>
  );
}

type Lab = { t: string; x: number; y: number; c: string; it?: boolean; s?: number };
function Scatter({ x0, cloud, pts, hits, vx, vTop, vColor, hy, hx, labels }: {
  x0: number; cloud: number[][]; pts: number[][]; hits: number[][]; vx: number; vTop: number; vColor: string; hy: number; hx: number; labels: Lab[];
}) {
  const xAxis = useRef<SVGGElement>(null);
  const yAxis = useRef<SVGGElement>(null);
  const x = d3.scaleLinear().domain([-1.1, 23]).range([x0 - 8.4, x0 + 174.8]);
  const y = d3.scaleLinear().domain([-0.92, 23.4]).range([749, 564]);
  useEffect(() => {
    const dress = (sel: any) => {
      sel.select(".domain").attr("stroke", "#555").attr("stroke-width", 1.8);
      sel.selectAll(".tick line").attr("stroke", "#555").attr("stroke-width", 1);
      sel.selectAll("text").attr("font-family", FONT).attr("font-size", 10.5).attr("fill", TXT);
    };
    const ticks = [0, 5, 10, 15, 20];
    dress(d3.select(xAxis.current!).call(d3.axisBottom(x).tickValues(ticks).tickSizeOuter(0).tickSize(4).tickPadding(5)));
    dress(d3.select(yAxis.current!).call(d3.axisLeft(y).tickValues(ticks).tickSizeOuter(0).tickSize(4).tickPadding(3)));
  }, []);
  const outline = d3.line().curve(d3.curveLinearClosed)(cloud.map((p) => [x(p[0]), y(p[1])]) as [number, number][]);
  return (
    <g>
      <g ref={xAxis} transform="translate(0,749)" />
      <g ref={yAxis} transform={`translate(${x0 - 8.4},0)`} />
      <line x1={x(-0.7)} x2={x(vx)} y1={y(-0.4)} y2={y(-0.4)} stroke="#bbb" />
      <line x1={x(vx)} x2={x(vx)} y1={y(vTop)} y2={y(-0.4)} stroke={vColor} />
      <path d={outline!} fill="#000" stroke="#000" strokeWidth={1.5} strokeLinejoin="round" />
      {pts.map((p, i) => <circle key={i} cx={x(p[0])} cy={y(p[1])} r={1.25} fill="#000" />)}
      <path d={`M${x(-0.2)},${y(hy)}H${x(hx)}V${y(-0.2)}`} fill="none" stroke="#e8222a" strokeWidth={1} strokeDasharray="3,2" />
      {hits.map((p, i) => <circle key={i} cx={x(p[0])} cy={y(p[1])} r={2.8} fill="#f00" />)}
      {labels.map((l, i) => (
        <text key={i} x={l.x} y={l.y} fontSize={l.s ?? 12} fill={l.c} fontStyle={l.it ? "italic" : "normal"}>{l.t}</text>
      ))}
      <text transform={`translate(${x0 - 38},658) rotate(-90)`} textAnchor="middle" fontSize={12} fill={TXT}>
        pGLS-GWAS (log(<tspan fontStyle="italic">P</tspan>)×−1)
      </text>
      <text x={x0 + 84} y={785} textAnchor="middle" fontSize={11.8} fill={TXT}>
        GLM-GWAS (log(<tspan fontStyle="italic">P</tspan>)×1)
      </text>
    </g>
  );
}

function TermGrid({ terms, red, cells, x0, axisX, axisEnd, domain, ticks, barX, barW, titleX }: {
  terms: string[]; red: number[]; cells: number[][]; x0: number; axisX: number; axisEnd: number; domain: number[]; ticks: number[]; barX: number; barW: number; titleX: number;
}) {
  const step = 12.4;
  const x = d3.scaleLinear().domain([0, 1]).range([x0, x0 + step]);
  const y = d3.scalePoint<string>().domain(groups).range([896, 927]);
  const color = d3.scaleSequential(d3.interpolateViridis).domain(domain as [number, number]);
  const barScale = d3.scaleLinear().domain(domain).range([barX, barX + barW]);
  const id = "grad" + Math.round(x0);
  return (
    <g>
      <defs>
        <linearGradient id={id}>
          {d3.range(0, 1.01, 0.1).map((t) => <stop key={t} offset={t} stopColor={d3.interpolateViridis(t)} />)}
        </linearGradient>
      </defs>
      <text x={titleX} y={841} textAnchor="middle" fontSize={11.6} fill={TXT}>
        log(Bonf. <tspan fontStyle="italic">P</tspan> value)×−1
      </text>
      <rect x={barX} y={847} width={barW} height={11} fill={`url(#${id})`} />
      {ticks.map((t) => (
        <g key={t}>
          <line x1={barScale(t)} x2={barScale(t)} y1={847} y2={850} stroke="#fff" />
          <text x={barScale(t)} y={871} textAnchor="middle" fontSize={10} fill={TXT}>{t}</text>
        </g>
      ))}
      <path d={`M${axisX},887V937H${axisEnd}`} fill="none" stroke="#555" strokeWidth={1.2} />
      {terms.map((t, i) => (
        <g key={t}>
          <line x1={x(i)} x2={x(i)} y1={937} y2={942} stroke="#333" />
          <text transform={`translate(${x(i) + 3},947) rotate(-45)`} textAnchor="end" fontSize={8} fill={red.includes(i) ? RED : TXT}>{t}</text>
        </g>
      ))}
      {cells.map((c, i) => {
        const cy = y(groups[c[0]]) as number;
        const cx = x(c[1]);
        return (
          <g key={i}>
            <rect x={cx - 7} y={cy - 7} width={14} height={14} fill={color(c[2])} opacity={0.25} />
            <rect x={cx - 6} y={cy - 6} width={12} height={12} fill={color(c[2])} stroke={c[3] ? "#e8141c" : "none"} strokeWidth={1.1} />
          </g>
        );
      })}
    </g>
  );
}

const panelLetters: [string, number, number][] = [["a", 9, 18], ["b", 298, 18], ["c", 9, 551], ["d", 283, 551], ["e", 522, 551], ["f", 761, 551], ["g", 9, 842], ["h", 445, 842]];

export default function App() {
  return (
    <svg width={990} height={1173} style={{ position: "absolute", left: 0, top: 0, background: "#fff" }} fontFamily={FONT}>
      {panelLetters.map(([t, x, y]) => (
        <text key={t} x={x} y={y} fontSize={16} fontWeight={900} fill="#000">{t}</text>
      ))}
      <TreePanel />
      <Strips />
      <Heatmap />
      <Dendrogram />
      <Legends />
      <Venn />
      <Scatter x0={334} cloud={cloudD} pts={pointsD.concat(humpD)} hits={hitsD} vx={16.6} vTop={15.2} vColor="#222" hy={8.9} hx={9.05}
        labels={[
          { t: "crcp/tpst1l/tmtops3b", x: 337, y: 621, c: "#a02030", it: true, s: 12.4 },
          { t: "mgst3", x: 441, y: 701, c: "#e03038", it: true },
          { t: "PC1", x: 337, y: 715, c: "#5a90d0" },
          { t: "loading", x: 337, y: 730, c: "#5a90d0" },
        ]} />
      <Scatter x0={573} cloud={cloudE} pts={pointsE.concat(humpE)} hits={hitsE} vx={13.9} vTop={15.2} vColor="#aaa" hy={9.05} hx={8.8}
        labels={[
          { t: "pc", x: 623, y: 623, c: "#a02030", it: true },
          { t: "nsg2", x: 677, y: 655, c: "#a02030", it: true },
          { t: "PC2", x: 576, y: 715, c: "#d09a44" },
          { t: "loading", x: 576, y: 730, c: "#d09a44" },
        ]} />
      <Scatter x0={813} cloud={cloudF} pts={pointsF.concat(humpF)} hits={hitsF} vx={21.6} vTop={18.9} vColor="#222" hy={10.65} hx={14.2}
        labels={[
          { t: "cps1", x: 850, y: 592, c: "#a02030", it: true },
          { t: "doc2b", x: 928, y: 609, c: "#e83038", it: true },
          { t: "Total rest", x: 819, y: 722, c: "#b868c8", s: 11.5 },
        ]} />
      <g fontSize={10} fill={TXT} textAnchor="end">
        {groups.map((g, i) => <text key={g} x={97} y={899 + i * 15.6}>{g}</text>)}
        {groups.map((g, i) => <line key={g} x1={103} x2={108} y1={896 + i * 15.6} y2={896 + i * 15.6} stroke="#333" />)}
        {groups.map((g, i) => <line key={g} x1={445} x2={450} y1={896 + i * 15.6} y2={896 + i * 15.6} stroke="#333" />)}
      </g>
      <TermGrid terms={diseaseTerms} red={diseaseRed} cells={diseaseCells} x0={115.5} axisX={108} axisEnd={432} domain={[15, 166]} ticks={diseaseTicks} barX={324} barW={101.7} titleX={377} />
      <TermGrid terms={goTerms} red={goRed} cells={goCells} x0={457.3} axisX={450} axisEnd={986} domain={[3.4, 30.7]} ticks={goTicks} barX={880} barW={102.7} titleX={932} />
      <text x={466} y={857} fontSize={11} fill={TXT}>GO terms</text>
    </svg>
  );
}
